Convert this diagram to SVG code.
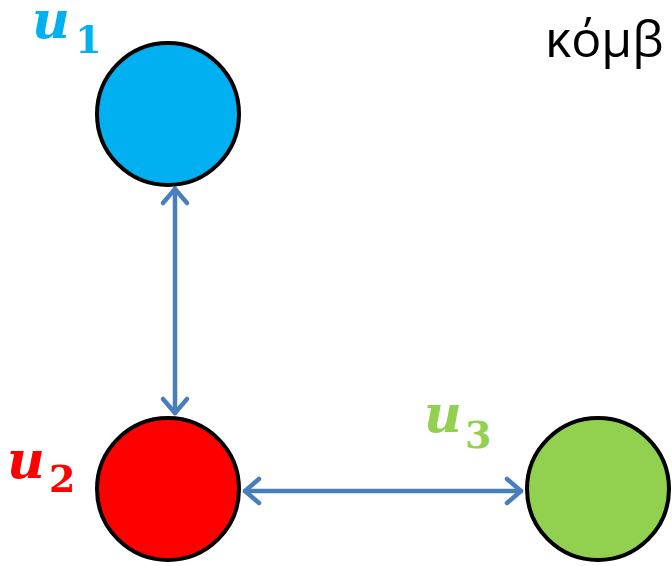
<svg xmlns="http://www.w3.org/2000/svg" width="672" height="566" viewBox="0 0 672 566">
<defs>
<style>
.node{stroke:#000;stroke-width:4}
.edge{stroke:#4A7EBB;stroke-width:4.5;fill:none;stroke-linecap:round;stroke-linejoin:round}
.lbl{font-family:"DejaVu Serif",serif;font-style:italic;font-weight:bold;font-size:52px}
.sub{font-family:"DejaVu Serif",serif;font-weight:bold;font-size:38px;font-style:normal}
</style>
</defs>
<rect width="672" height="566" fill="#fff"/>
<g id="connectors">
<line class="edge" x1="175" y1="189" x2="175" y2="413"/>
<polyline class="edge" points="163,203 175,189 187,203"/>
<polyline class="edge" points="163,399 175,413 187,399"/>
<line class="edge" x1="245" y1="491" x2="521" y2="491"/>
<polyline class="edge" points="259,479 245,491 259,503"/>
<polyline class="edge" points="507,479 521,491 507,503"/>
</g>
<g id="u1">
<circle class="node" cx="168" cy="114" r="71" fill="#00B0F0"/>
<text class="lbl" x="32" y="38" fill="#00B0F0">u<tspan class="sub" x="75" y="53">1</tspan></text>
</g>
<g id="u2">
<circle class="node" cx="168" cy="489" r="71" fill="#FF0000"/>
<text class="lbl" x="7" y="478" fill="#FF0000">u<tspan class="sub" x="49" y="492">2</tspan></text>
</g>
<g id="u3">
<circle class="node" cx="598" cy="489" r="71" fill="#92D050"/>
<text class="lbl" x="424" y="432" fill="#92D050">u<tspan class="sub" x="465" y="448">3</tspan></text>
</g>
<g id="title">
<text x="545" y="57" font-family="'Open Sans','Noto Sans',sans-serif" font-size="50" fill="#000">κόμβ</text>
</g>
</svg>
